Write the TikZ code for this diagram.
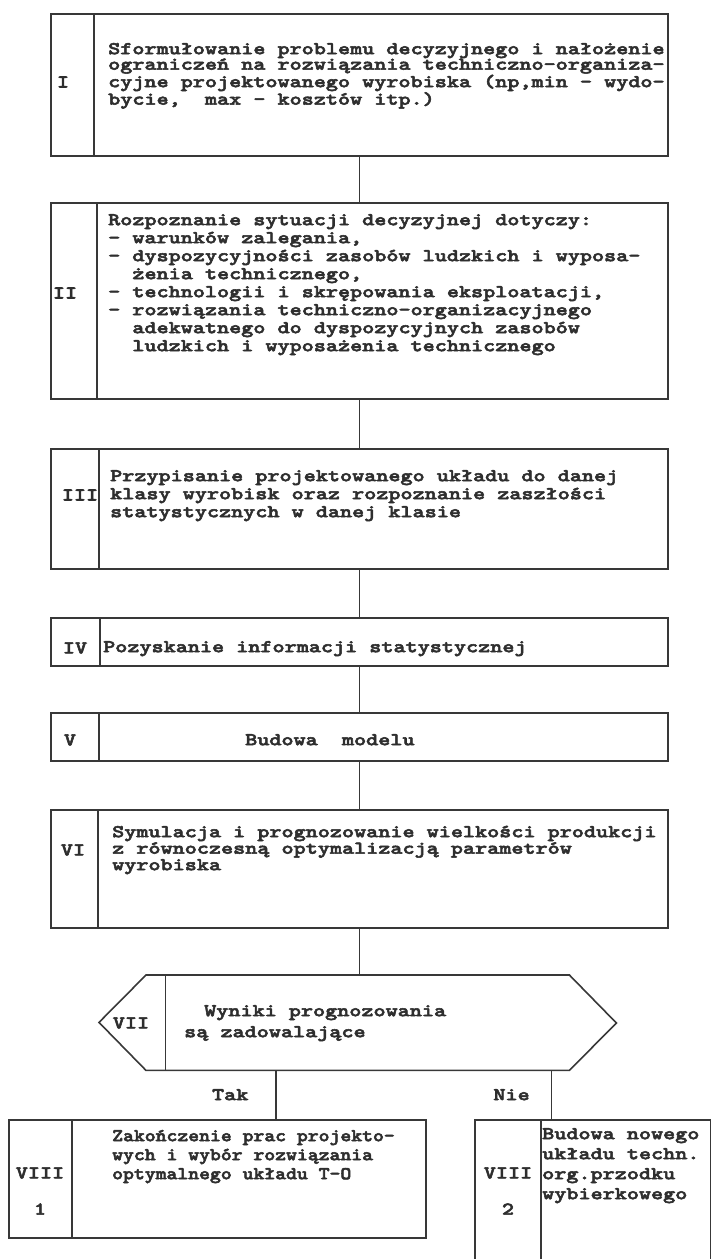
\documentclass[tikz,border=0pt]{standalone}
\usepackage{fontspec}
\usetikzlibrary{positioning, calc}
\newfontfamily\tw{lmmonolt10-bold.otf}[FakeStretch=1.28, FakeBold=3]
\newfontfamily\twn{lmmonolt10-bold.otf}[FakeStretch=1.15, FakeBold=3]
\newcommand{\lh}{\rule{0pt}{13pt}}

\begin{document}
\begin{tikzpicture}[
  x=1pt, y=-1pt,
  frame/.style={draw=black!78, line width=1.6pt},
  box/.style={frame, anchor=north west, inner sep=0pt, minimum width=617pt},
  link/.style={draw=black!78, line width=1.4pt},
  num/.style={font=\fontsize{18}{18}\tw, text=black!82, inner sep=0pt},
  txt/.style={font=\fontsize{18}{#1}\tw, text=black!82, inner sep=0pt, anchor=north west, align=left},
  txt/.default=18]

\useasboundingbox (0,0) rectangle (711,1259);
\clip (0,0) rectangle (711,1259);

% ---------- main chain of steps
\node[box, minimum height=142pt] (s1) at (50,13)  {};
\node[box, minimum height=196pt] (s2) at (50,202) {};
\node[box, minimum height=120pt] (s3) at (50,448) {};
\node[box, minimum height=48pt]  (s4) at (50,617) {};
\node[box, minimum height=48pt]  (s5) at (50,712) {};
\node[box, minimum height=118pt] (s6) at (50,809) {};

% ---------- number columns
\draw[frame] ($(s1.north west)+(44,0)$) -- ($(s1.south west)+(44,0)$);
\draw[frame] ($(s2.north west)+(47,0)$) -- ($(s2.south west)+(47,0)$);
\draw[frame] ($(s3.north west)+(49,0)$) -- ($(s3.south west)+(49,0)$);
\draw[frame] ($(s4.north west)+(50,0)$) -- ($(s4.south west)+(50,0)$);
\draw[frame] ($(s5.north west)+(49,0)$) -- ($(s5.south west)+(49,0)$);
\draw[frame] ($(s6.north west)+(48,0)$) -- ($(s6.south west)+(48,0)$);

\node[num] (n1) at (63,82)  {I};
\node[num] (n2) at (65,293) {II};
\node[num] (n3) at (80,495) {III};
\node[num] (n4) at (75,648) {IV};
\node[num] (n5) at (70,740) {V};
\node[num] (n6) at (73,850) {VI};

% ---------- step texts
\node[txt=15.5] (t1) at (108,41) {\lh Sformułowanie problemu decyzyjnego i nałożenie\\ograniczeń na rozwiązania techniczno-organiza-\\cyjne projektowanego wyrobiska (np,min - wydo-\\bycie,\ \ max - kosztów itp.)};
\node[txt=18] (t2) at (108,212) {\lh Rozpoznanie sytuacji decyzyjnej dotyczy:\\- warunków zalegania,\\- dyspozycyjności zasobów ludzkich i wyposa-\\\hphantom{- }żenia technicznego,\\- technologii i skrępowania eksploatacji,\\- rozwiązania techniczno-organizacyjnego\\\hphantom{- }adekwatnego do dyspozycyjnych zasobów\\\hphantom{- }ludzkich i wyposażenia technicznego};
\node[txt=18] (t3) at (110,468) {\lh Przypisanie projektowanego układu do danej\\klasy wyrobisk oraz rozpoznanie zaszłości\\statystycznych w danej klasie};
\node[txt] (t4) at (103,639) {\lh Pozyskanie informacji statystycznej};
\node[txt] (t5) at (245,732) {\lh Budowa\ \ modelu};
\node[txt=16.5] (t6) at (112,824) {\lh Symulacja i prognozowanie wielkości produkcji\\z równoczesną optymalizacją parametrów\\wyrobiska};

% ---------- decision
\node[anchor=north west, inner sep=0pt, minimum width=423pt, minimum height=95pt] (d7) at (146,975) {};
\draw[frame] (d7.north west) -- (d7.north east) -- ++(47,48) -- (d7.south east)
  -- (d7.south west) -- ++(-47,-48) -- cycle;
\draw[frame] ($(d7.north west)+(19.5,0)$) -- ($(d7.south west)+(19.5,0)$);
\node[num] (n7) at (131,1023) {VII};
\node[txt=21] (t7) at (184,1003) {\lh\hspace*{20pt}Wyniki prognozowania\\są zadowalające};

% ---------- outcomes
\node[box, minimum width=417pt, minimum height=118pt] (s81) at (8,1119)   {};
\node[box, minimum width=236pt, minimum height=160pt] (s82) at (474,1119) {};
\draw[frame] ($(s81.north west)+(64,0)$) -- ($(s81.south west)+(64,0)$);
\draw[frame] ($(s82.north west)+(67,0)$) -- ($(s82.south west)+(67,0)$);
\node[num] (n81) at (40,1173)  {VIII};
\node[num] (k81) at (40,1209)  {1};
\node[num] (n82) at (508,1173) {VIII};
\node[num] (k82) at (508,1209) {2};
\node[txt=19, font=\fontsize{18}{19}\twn] (t81) at (112,1128) {\lh Zakończenie prac projekto-\\wych i wybór rozwiązania\\optymalnego układu T-O};
\node[txt=20] (t82) at (542,1126) {\lh Budowa nowego\\układu techn.\\org.przodku\\wybierkowego};

% ---------- connectors
\draw[link] (s1.south) -- (s2.north);
\draw[link] (s2.south) -- (s3.north);
\draw[link] (s3.south) -- (s4.north);
\draw[link] (s4.south) -- (s5.north);
\draw[link] (s5.south) -- (s6.north);
\draw[link] (s6.south) -- (s6.south |- d7.north);
\coordinate (yes) at ($(d7.south west)+(130,0)$);
\coordinate (no)  at ($(d7.south east)+(-18,0)$);
\draw[link] (yes) -- node[num, left=27pt] (l1) {Tak} (yes |- s81.north);
\draw[link] (no)  -- node[num, left=21pt] (l2) {Nie} (no |- s82.north);
\end{tikzpicture}
\end{document}
